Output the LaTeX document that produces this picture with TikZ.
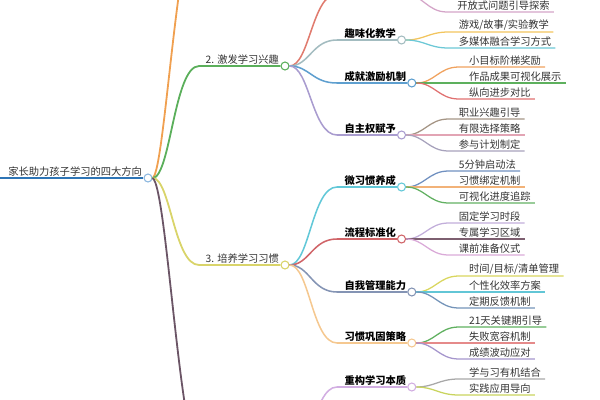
\documentclass[tikz,border=0pt]{standalone}
\usepackage{fontspec}
\setmainfont{Noto Sans CJK SC}
\usetikzlibrary{calc}
\definecolor{rootc}{HTML}{2E75B6}
\definecolor{rootd}{HTML}{8DB8E0}
\definecolor{corange}{HTML}{F0A050}
\definecolor{cgreen}{HTML}{5BAF5B}
\definecolor{cyellow}{HTML}{D9D46A}
\definecolor{cdark}{HTML}{6B5566}
\definecolor{cred}{HTML}{E07B6E}
\definecolor{cteal}{HTML}{A3BCC0}
\definecolor{cblue}{HTML}{5E9FCF}
\definecolor{clav}{HTML}{A99CCF}
\definecolor{ccyan}{HTML}{62C8D8}
\definecolor{cred2}{HTML}{D06468}
\definecolor{cslate}{HTML}{8494B4}
\definecolor{clorange}{HTML}{F5C890}
\definecolor{clav2}{HTML}{D2AEE2}
\definecolor{txt}{HTML}{333333}
\definecolor{la3}{HTML}{D4A5C8}
\definecolor{lb1}{HTML}{F2C55E}
\definecolor{lb2}{HTML}{6CC8D6}
\definecolor{lc1}{HTML}{F0A25E}
\definecolor{lc2}{HTML}{5DB05D}
\definecolor{lc3}{HTML}{E07070}
\definecolor{ld1}{HTML}{A59585}
\definecolor{ld2}{HTML}{E2A4B4}
\definecolor{ld3}{HTML}{A7A2BC}
\definecolor{le1}{HTML}{7090C0}
\definecolor{le2}{HTML}{F2B278}
\definecolor{le3}{HTML}{62B062}
\definecolor{lf1}{HTML}{C2AEDA}
\definecolor{lf2}{HTML}{7D5F70}
\definecolor{lf3}{HTML}{DAAAD8}
\definecolor{lg1}{HTML}{D9D65E}
\definecolor{lg2}{HTML}{62C6D6}
\definecolor{lg3}{HTML}{7393B8}
\definecolor{lk1}{HTML}{5FB05F}
\definecolor{lk2}{HTML}{E58A8A}
\definecolor{lk3}{HTML}{A595CC}
\definecolor{lm1}{HTML}{A8A8A8}
\definecolor{lm2}{HTML}{C9D45E}
\newcommand\mmhead[5]{%
  \node[hdr] (#1t) at (343,#3) {#5};
  \node[dot, draw=#4] (#1) at ($(#1t.south east)+(4,0)$) {};
  \draw[br, #4] (#2.east) .. controls +(20,0) and +(-25,0) .. ($(#1t.south west)+(-6,0)$) -- (#1.west);
}
\newcommand\mmleaf[5]{%
  \node[leaf] (#1) at ($(#2.center)+(53,#3)$) {#5};
  \draw[lf, #4] (#2.east) .. controls +(18,0) and +(-20,0) .. ($(#1.south west)+(-6,0)$) -- (#1.south east);
}
\begin{document}
\begin{tikzpicture}[x=0.75pt,y=-0.75pt,
  dot/.style={circle, draw, fill=white, inner sep=0pt, minimum size=6pt, line width=0.8pt},
  leaf/.style={inner xsep=3pt, inner ysep=1.2pt, text=txt, font=\fontsize{7.7}{9}\selectfont, anchor=south west},
  hdr/.style={inner xsep=1pt, inner ysep=1.2pt, text=black, font=\fontsize{7.7}{9}\selectfont\bfseries, anchor=south west},
  hub/.style={inner xsep=1pt, inner ysep=1.2pt, text=txt, font=\fontsize{7.7}{9}\selectfont, anchor=south east},
  lf/.style={line width=0.95pt},
  br/.style={line width=1.15pt},
  mn/.style={line width=1.35pt}]
\useasboundingbox (0,0) rectangle (600,400);
\clip (0,0) rectangle (600,400);
% root
\node[dot, draw=rootd] (rc) at (148,178) {};
\node[hub] (rt) at (rc.west) {家长助力孩子学习的四大方向};
\coordinate (r0) at (0,178);
\draw[rootc, line width=2pt] (r0) -- (rc.west);
% hubs
\node[dot, draw=corange] (h1) at (285,-100) {};
\coordinate (h1s) at (205,-100);
\node[dot, draw=cgreen] (h2) at (285,66) {};
\node[hub] (t2) at (h2.west) {2. 激发学习兴趣};
\node[dot, draw=cyellow] (h3) at (285,265) {};
\node[hub] (t3) at (h3.west) {3. 培养学习习惯};
\node[dot, draw=cdark] (h4) at (285,470) {};
\coordinate (h4s) at (205,470);
\draw[mn, corange] (rc.east) .. controls +(13,-5) and +(-27,0) .. (h1s) -- (h1.west);
\draw[mn, cgreen] (rc.east) .. controls +(18,0) and +(-25,0) .. ($(t2.south west)+(-5,0)$) -- (h2.west);
\draw[mn, cyellow] (rc.east) .. controls +(18,0) and +(-25,0) .. ($(t3.south west)+(-5,0)$) -- (h3.west);
\draw[mn, cdark] (rc.east) .. controls +(15,8) and +(-25,0) .. (h4s) -- (h4.west);
% hub 2 children
\node[dot, draw=cred] (q1) at (400,-6) {};
\coordinate (q1s) at (337,-6);
\draw[br, cred] (h2.east) .. controls +(20,0) and +(-25,0) .. (q1s) -- (q1.west);
\mmhead{q2}{h2}{40}{cteal}{趣味化教学}
\mmhead{q3}{h2}{83}{cblue}{成就激励机制}
\mmhead{q4}{h2}{135}{clav}{自主权赋予}
% hub 3 children
\mmhead{w1}{h3}{187}{ccyan}{微习惯养成}
\mmhead{w2}{h3}{239}{cred2}{流程标准化}
\mmhead{w3}{h3}{292}{cslate}{自我管理能力}
\mmhead{w4}{h3}{343}{clorange}{习惯巩固策略}
% hub 4 child
\mmhead{r1}{h4}{387}{clav2}{重构学习本质}
% leaves
\mmleaf{a3}{q1}{18}{la3}{开放式问题引导探索}
\mmleaf{b1}{q2}{-8}{lb1}{游戏/故事/实验教学}
\mmleaf{b2}{q2}{8}{lb2}{多媒体融合学习方式}
\mmleaf{c1}{q3}{-16}{lc1}{小目标阶梯奖励}
\mmleaf{c2}{q3}{0}{lc2}{作品成果可视化展示}
\mmleaf{c3}{q3}{16}{lc3}{纵向进步对比}
\mmleaf{d1}{q4}{-16}{ld1}{职业兴趣引导}
\mmleaf{d2}{q4}{0}{ld2}{有限选择策略}
\mmleaf{d3}{q4}{16}{ld3}{参与计划制定}
\mmleaf{e1}{w1}{-16}{le1}{5分钟启动法}
\mmleaf{e2}{w1}{0}{le2}{习惯绑定机制}
\mmleaf{e3}{w1}{16}{le3}{可视化进度追踪}
\mmleaf{f1}{w2}{-16}{lf1}{固定学习时段}
\mmleaf{f2}{w2}{0}{lf2}{专属学习区域}
\mmleaf{f3}{w2}{16}{lf3}{课前准备仪式}
\mmleaf{g1}{w3}{-16}{lg1}{时间/目标/清单管理}
\mmleaf{g2}{w3}{0}{lg2}{个性化效率方案}
\mmleaf{g3}{w3}{16}{lg3}{定期反馈机制}
\mmleaf{k1}{w4}{-16}{lk1}{21天关键期引导}
\mmleaf{k2}{w4}{0}{lk2}{失败宽容机制}
\mmleaf{k3}{w4}{16}{lk3}{成绩波动应对}
\mmleaf{m1}{r1}{-8}{lm1}{学与习有机结合}
\mmleaf{m2}{r1}{8}{lm2}{实践应用导向}
\end{tikzpicture}
\end{document}
